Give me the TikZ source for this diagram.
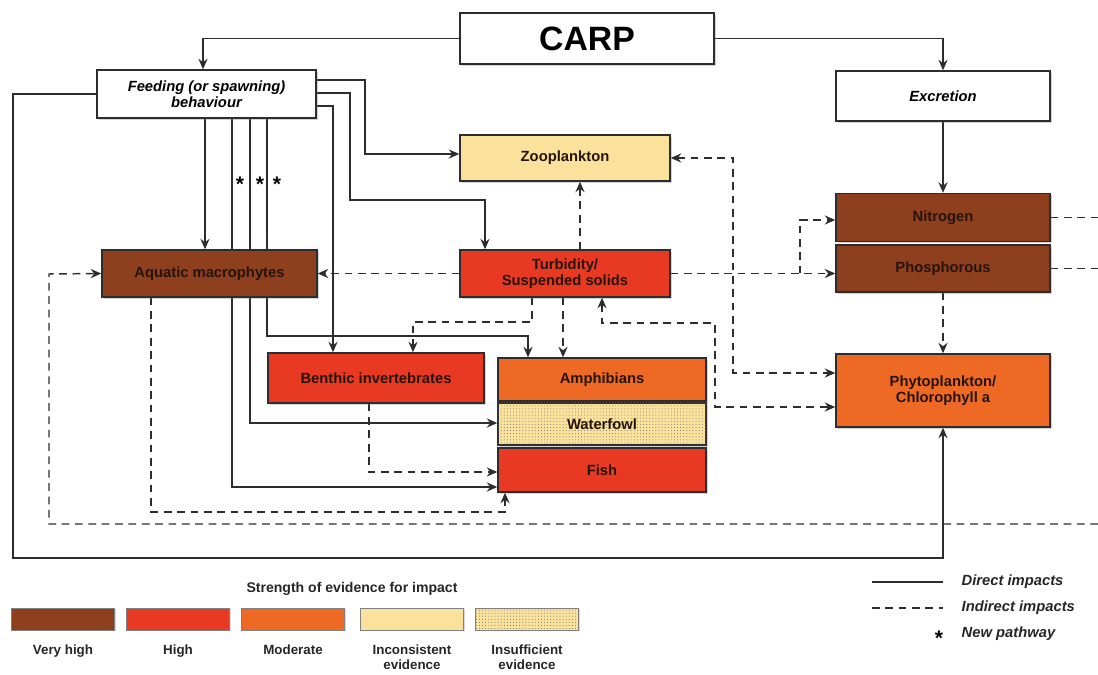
\documentclass[tikz,border=0pt]{standalone}
\usepackage{fontspec}
\setmainfont{Liberation Sans}
\usepackage{tikz}
\usetikzlibrary{arrows.meta,calc,positioning,shadows,patterns.meta,backgrounds}
\definecolor{veryhigh}{RGB}{142,63,29}
\definecolor{high}{RGB}{232,58,35}
\definecolor{moderate}{RGB}{238,106,36}
\definecolor{inconsistent}{RGB}{251,226,156}
\definecolor{linecol}{RGB}{45,45,45}
\definecolor{labelcol}{RGB}{38,20,12}
\tikzset{
>={Stealth[length=7.5pt,width=6.5pt,inset=2.5pt]},
  factor/.style={
    rectangle,
    draw=linecol, line width=1pt,
    text=labelcol,
    font=\fontsize{10.5}{11.5}\selectfont\bfseries,
    align=center,
    inner sep=2pt,
    drop shadow={shadow xshift=1.3pt, shadow yshift=-1.3pt, opacity=0.35}},
  process/.style={
    factor,
    fill=white,
    text=black,
    font=\fontsize{10.5}{11.5}\selectfont\bfseries\itshape},
  dotted fill/.style={
    fill=inconsistent,
    postaction={pattern={Dots[radius=0.35pt, distance=2.2pt]}, pattern color=black!55}},
  direct/.style={draw=linecol, line width=1.05pt},
  indirect/.style={draw=linecol, line width=1.05pt, dash pattern=on 5.5pt off 4pt},
  swatch/.style={
    rectangle,
    draw=linecol!60, line width=0.5pt,
    minimum width=2.575cm,
    minimum height=0.55cm,
    drop shadow={shadow xshift=1pt, shadow yshift=-1pt, opacity=0.3}},
  keylabel/.style={font=\fontsize{9.5}{11}\selectfont\bfseries, text=black!85, align=center, inner sep=1pt},
  keyitem/.style={font=\fontsize{10.5}{12}\selectfont\bfseries\itshape, text=black!85, anchor=west, inner sep=1pt},
  newpath/.style={font=\fontsize{15}{15}\selectfont\bfseries, inner sep=0pt},
}

\begin{document}
\begin{tikzpicture}[x=0.025cm,y=-0.025cm]
	\useasboundingbox (0,0) rectangle (1098,675);

	\node[process, minimum width=6.35cm, minimum height=1.275cm,
		font=\fontsize{24}{26}\selectfont\bfseries] (carp) at (587,38.5) {CARP};
	\node[process, minimum width=5.475cm, minimum height=1.2cm] (feed) at (206.5,94) {Feeding (or spawning)\\behaviour};
	\node[process, minimum width=5.35cm, minimum height=1.25cm] (excr) at (943,96) {Excretion};

	\node[factor, fill=inconsistent, minimum width=5.25cm, minimum height=1.15cm] (zoo) at (565,158) {Zooplankton};
	\node[factor, fill=veryhigh, minimum width=5.35cm, minimum height=1.2cm] (nitro) at (943,217.5) {Nitrogen};
	\node[factor, fill=veryhigh, minimum width=5.35cm, minimum height=1.175cm] (phos) at (943,268.5) {Phosphorous};
	\node[factor, fill=veryhigh, minimum width=5.375cm, minimum height=1.175cm] (macro) at (209.5,273.5) {Aquatic macrophytes};
	\node[factor, fill=high, minimum width=5.25cm, minimum height=1.175cm] (turb) at (565,273.5) {Turbidity/\\Suspended solids};
	\node[factor, fill=high, minimum width=5.4cm, minimum height=1.25cm] (benth) at (376,378) {Benthic invertebrates};
	\node[factor, fill=moderate, minimum width=5.2cm, minimum height=1.075cm] (amph) at (602,379.5) {Amphibians};
	\node[factor, dotted fill, minimum width=5.2cm, minimum height=1.05cm] (water) at (602,424) {Waterfowl};
	\node[factor, fill=high, minimum width=5.2cm, minimum height=1.1cm] (fish) at (602,470) {Fish};
	\node[factor, fill=moderate, minimum width=5.35cm, minimum height=1.825cm] (phyto) at (943,390.5) {Phytoplankton/\\Chlorophyll a};

	\coordinate (nitroedge) at (1098,217.5);
	\coordinate (phosedge) at (1098,268.5);
	\coordinate (loopedge) at (1098,524);

	\node[newpath] (star1) at (240,184) {*};
	\node[newpath] (star2) at (260,184) {*};
	\node[newpath] (star3) at (277,184) {*};

	\begin{pgfonlayer}{background}
	\draw[direct,->] (carp.west) -| (feed.north -| 203,0);
	\draw[direct,->] (carp.east) -| (excr.north);
	\draw[direct,->] (excr.south) -- (nitro.north);
	\draw[direct,->] (feed.west) -| (13,558) -| (phyto.south);

	\draw[direct,->] (feed.east |- 0,80) -- (365,80) |- (zoo.west |- 0,154);
	\draw[direct,->] (feed.east |- 0,93) -- (350,93) |- (485,200) -- (turb.north -| 485,0);
	\draw[direct,->] (feed.east |- 0,106) -| (benth.north -| 333,0);

	\draw[direct,->] (feed.south -| 205,0) -- (macro.north -| 205,0);
	\draw[direct,->] (feed.south -| 232,0) |- (fish.west |- 0,487);
	\draw[direct,->] (feed.south -| 250,0) |- (water.west |- 0,423);
	\draw[direct,->] (feed.south -| 267,0) |- (528,336) -- (amph.north -| 528,0);

	\draw[indirect,->] (turb.west) -- (macro.east);
	\draw[indirect,->] (turb.north -| 580,0) -- (zoo.south -| 580,0);
	\draw[indirect,->] (turb.south -| 532,0) |- (413,322) -- (benth.north -| 413,0);
	\draw[indirect,->] (turb.south -| 563,0) -- (amph.north -| 563,0);
	\draw[indirect,->] (turb.east) -- (phos.west |- turb.east);
	\draw[indirect,->] (turb.east -| 800,0) |- (nitro.west |- 0,220);
	\draw[indirect,<->] (zoo.east) -| (733,373) -- (phyto.west |- 0,373);
	\draw[indirect,<->] (turb.south -| 602,0) |- (715,323) |- (phyto.west |- 0,407);
	\draw[indirect,->] (phos.south) -- (phyto.north);
	\draw[indirect] (nitro.east) -- (nitroedge);
	\draw[indirect] (phos.east) -- (phosedge);
	\draw[indirect,->] (benth.south -| 369,0) |- (fish.west |- 0,472);
	\draw[indirect,->] (macro.south -| 151,0) |- (505,512) -- (fish.south -| 505,0);
	\draw[indirect,->] (loopedge) -| (49,274) -- (macro.west);
	\end{pgfonlayer}

	% legend
	\node[font=\fontsize{10}{12}\selectfont\bfseries, text=black!85] (keytitle) at (352,589) {Strength of evidence for impact};
	\node[swatch, fill=veryhigh] (kvh) at (63,619) {};
	\node[swatch, fill=high] (kh) at (178,619) {};
	\node[swatch, fill=moderate] (km) at (293,619) {};
	\node[swatch, fill=inconsistent] (kic) at (412,619) {};
	\node[swatch, dotted fill] (kis) at (527,619) {};
	\node[keylabel, below=0.32cm of kvh] {Very high};
	\node[keylabel, below=0.32cm of kh] {High};
	\node[keylabel, below=0.32cm of km] {Moderate};
	\node[keylabel, below=0.32cm of kic] {Inconsistent\\evidence};
	\node[keylabel, below=0.32cm of kis] {Insufficient\\evidence};

	\coordinate (ds) at (872,582);
	\coordinate (de) at (943,582);
	\coordinate (is) at (872,608);
	\coordinate (ie) at (943,608);
	\draw[direct] (ds) -- (de);
	\draw[indirect] (is) -- (ie);
	\node[keyitem] (kdirect) at (960,582) {Direct impacts};
	\node[keyitem] (kindirect) at (960,608) {Indirect impacts};
	\node[newpath] (kstar) at (939,638) {*};
	\node[keyitem] (knew) at (960,634) {New pathway};
\end{tikzpicture}
\end{document}
